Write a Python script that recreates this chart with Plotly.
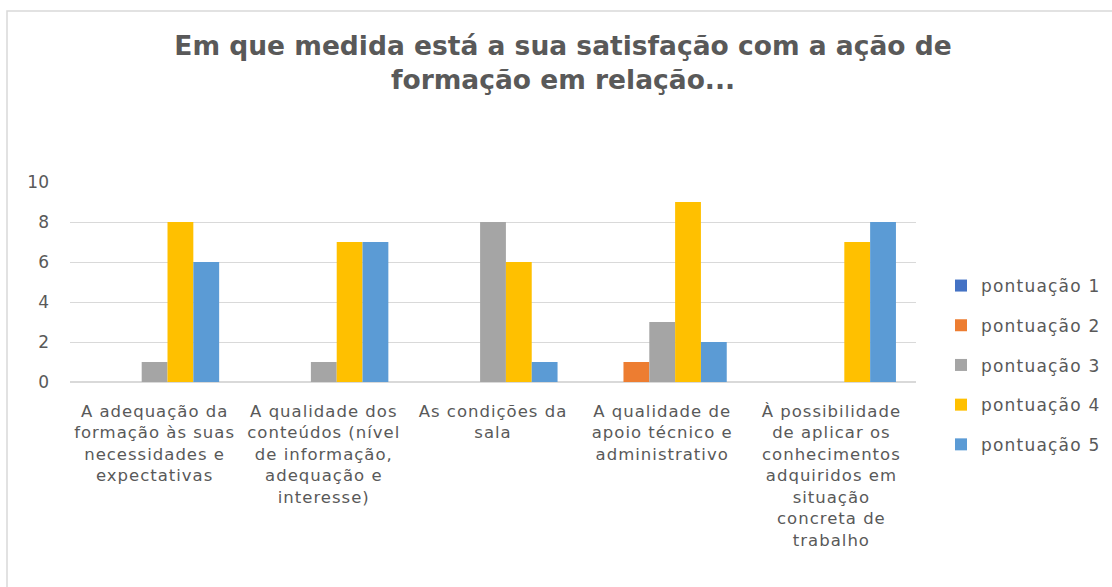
import plotly.graph_objects as go

categories = [
    "A adequação da<br>formação às suas<br>necessidades e<br>expectativas",
    "A qualidade dos<br>conteúdos (nível<br>de informação,<br>adequação e<br>interesse)",
    "As condições da<br>sala",
    "A qualidade de<br>apoio técnico e<br>administrativo",
    "À possibilidade<br>de aplicar os<br>conhecimentos<br>adquiridos em<br>situação<br>concreta de<br>trabalho",
]
series_names = ["pontuação 1", "pontuação 2", "pontuação 3", "pontuação 4", "pontuação 5"]
pont1 = [0, 0, 0, 0, 0]
pont2 = [0, 0, 0, 1, 0]
pont3 = [1, 1, 8, 3, 0]
pont4 = [8, 7, 6, 9, 7]
pont5 = [6, 7, 1, 2, 8]
values = [pont1, pont2, pont3, pont4, pont5]
colors = ["#4472C4", "#ED7D31", "#A5A5A5", "#FFC000", "#5B9BD5"]
yticks = [0, 2, 4, 6, 8, 10]

W, H = 1112, 587
L, R, T, B = 70, 196, 182, 205
pw, ph = W - L - R, H - T - B

def px_x(p):
    return (p - L) / pw

def px_y(p):
    return (H - B - p) / ph

fig = go.Figure()
for i, (name, vals) in enumerate(zip(series_names, values)):
    fig.add_trace(go.Bar(
        x=categories, y=vals, name=name, marker_color=colors[i],
        marker_line_width=0, legendgroup=name,
    ))

fig.update_layout(
    width=W, height=H,
    margin=dict(l=L, r=R, t=T, b=B, autoexpand=False),
    paper_bgcolor="white", plot_bgcolor="white",
    barmode="group", bargap=0.237, bargroupgap=0,
    font=dict(family="DejaVu Sans", color="#595959", size=16),
    title=dict(
        text="<b>Em que medida está a sua satisfação com a ação de<br>formação em relação...</b>",
        x=px_x(563), xref="paper", xanchor="center",
        y=1 - 55 / H, yref="container", yanchor="top",
        font=dict(family="DejaVu Sans", size=26.5, color="#595959"),
    ),
    xaxis=dict(
        showgrid=False, showline=True, linecolor="#D9D9D9", linewidth=1,
        ticks="", tickangle=0, ticklabelstandoff=14,
        tickfont=dict(family="DejaVu Sans", size=16.5, color="#595959"),
    ),
    yaxis=dict(
        range=[0, 10], tickvals=yticks, showgrid=True, gridcolor="#D9D9D9",
        gridwidth=1, zeroline=True, zerolinecolor="#D9D9D9", showline=False,
        ticks="", ticklabelstandoff=20,
        tickfont=dict(family="DejaVu Sans", size=17, color="#595959"),
    ),
    legend=dict(
        x=px_x(941), xanchor="left", y=px_y(268), yanchor="top",
        font=dict(family="DejaVu Sans", size=17, color="#595959"),
        traceorder="grouped", tracegroupgap=14.6,
        itemwidth=30, bgcolor="rgba(0,0,0,0)",
    ),
    shapes=[dict(
        type="rect", xref="paper", yref="paper",
        x0=px_x(7), x1=px_x(W + 5), y0=px_y(H + 5), y1=px_y(11),
        line=dict(color="#D9D9D9", width=1.5), fillcolor="rgba(0,0,0,0)",
        layer="below",
    )],
)

post = (
    "document.body.style.margin='0';document.body.style.overflow='hidden';"
    "var s=document.createElement('style');"
    "s.textContent='.xtick text{letter-spacing:1px} .legendtext{letter-spacing:1.2px} "
    ".legend .scrollbox{clip-path:none !important}';"
    "document.head.appendChild(s);"
)
fig.write_html("out.html", post_script=post, config={"displayModeBar": False})
